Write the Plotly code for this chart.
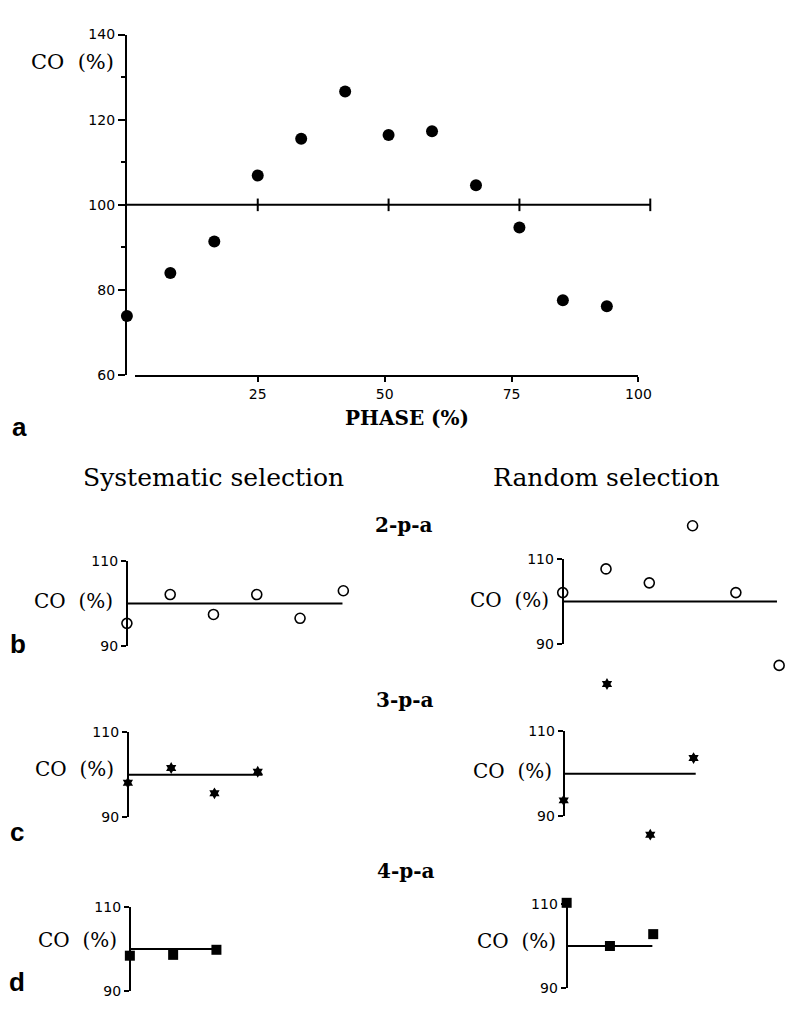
import plotly.graph_objects as go

W, H = 801, 1015

# ---------------- data ----------------
# panel a: cardiac output vs phase
phase_a = [0, 8.3, 16.7, 25, 33.3, 41.7, 50, 58.3, 66.7, 75, 83.3, 91.7]
co_a = [73.9, 84.0, 91.4, 106.9, 115.5, 126.6, 116.4, 117.3, 104.6, 94.7, 77.6, 76.2]
ytick_a = [60, 80, 100, 120, 140]
yminor_a = [90, 110, 130]
xtick_a = [25, 50, 75, 100]

# panels b-d: systematic vs random selection (sample index, CO %)
sample_b_sys = [0, 1, 2, 3, 4, 5]
co_b_sys = [95.3, 102.1, 97.4, 102.1, 96.5, 103.0]
sample_b_rand = [0, 1, 2, 3, 4, 5]
co_b_rand = [102.1, 107.7, 104.4, 117.9, 102.1, 84.9]
sample_c_sys = [0, 1, 2, 3]
co_c_sys = [98.1, 101.6, 95.6, 100.7]
sample_c_rand = [0, 1, 2, 3]
co_c_rand = [93.7, 121.2, 85.6, 103.7]
sample_d_sys = [0, 1, 2]
co_d_sys = [98.4, 98.6, 99.8]
sample_d_rand = [0, 1, 2]
co_d_rand = [110.2, 100.0, 102.8]
ytick_small = [90, 110]
reference_co = 100


def fx(px):
    return px / W


def fy(py):
    return 1 - py / H


TICKFONT = dict(family="DejaVu Sans", size=14, color="black")
SERIF = "DejaVu Serif"

fig = go.Figure()

# ---------------- panel a ----------------
fig.add_trace(go.Scatter(x=[0, 100], y=[reference_co, reference_co], mode="lines",
                         line=dict(color="black", width=2), xaxis="x", yaxis="y",
                         hoverinfo="skip"))
fig.add_trace(go.Scatter(x=xtick_a, y=[reference_co] * len(xtick_a), mode="markers",
                         marker=dict(symbol="line-ns-open", size=9, color="black",
                                     line=dict(width=2, color="black")),
                         xaxis="x", yaxis="y", cliponaxis=False, hoverinfo="skip"))
fig.add_trace(go.Scatter(x=phase_a, y=co_a, mode="markers",
                         marker=dict(size=12, color="black"),
                         xaxis="x", yaxis="y", cliponaxis=False))
fig.add_trace(go.Scatter(x=[None], y=[None], xaxis="x2", yaxis="y", hoverinfo="skip"))

a_px_per_unit = 5.32
layout = dict(
    width=W, height=H, margin=dict(l=0, r=0, t=0, b=0),
    paper_bgcolor="white", plot_bgcolor="rgba(0,0,0,0)", showlegend=False,
    xaxis=dict(domain=[fx(129), fx(663)], range=[0, (663 - 129) / a_px_per_unit],
               visible=False, anchor="y", fixedrange=True),
    yaxis=dict(domain=[fy(373), fy(27)], range=[60, 140], anchor="x",
               showline=True, linewidth=2, linecolor="black",
               ticks="outside", ticklen=7, tickwidth=2, tickcolor="black",
               tickvals=ytick_a, tickfont=TICKFONT, showgrid=False, zeroline=False,
               minor=dict(tickvals=yminor_a, ticks="outside", ticklen=4, tickwidth=1.5,
                          tickcolor="black", showgrid=False)),
    xaxis2=dict(domain=[fx(137), fx(649)], range=[0.78, 100], anchor="y",
                showline=True, linewidth=2, linecolor="black",
                ticks="outside", ticklen=5, tickwidth=2, tickcolor="black",
                tickvals=xtick_a, tickfont=TICKFONT, showgrid=False, zeroline=False),
)

# ---------------- small panels ----------------
open_circle = dict(symbol="circle-open", size=10, color="black",
                   line=dict(width=1.6, color="black"))
star = dict(symbol="hexagram", size=9, color="black")
square = dict(symbol="square", size=10, color="black")
small = [
    # (x, y, marker, axis-origin px, 100-line px, line length in samples)
    (sample_b_sys, co_b_sys, open_circle, 129, 605, 4.98),
    (sample_b_rand, co_b_rand, open_circle, 572, 603, 4.95),
    (sample_c_sys, co_c_sys, star, 130, 779, 3.11),
    (sample_c_rand, co_c_rand, star, 573, 778, 3.05),
    (sample_d_sys, co_d_sys, square, 132, 956, 2.07),
    (sample_d_rand, co_d_rand, square, 576, 953, 1.98),
]
step_px = 44          # px per sample
py_unit = 4.3         # px per CO %
n_small = len(small)
for k, (xs, ys, mk, x0, yl, L) in enumerate(small):
    i = 3 + k
    j = 3 + n_small + k
    xa, ya, yd = f"x{i}", f"y{i}", f"y{j}"
    # hidden data axes, same pixel scale, wide enough for every point
    right_px = min(x0 + (max(max(xs), L) + 0.5) * step_px, W - 1)
    xmax = (right_px - x0) / step_px
    bottom_px = min(yl + (100 - (min(min(ys), 90) - 3)) * py_unit, H - 1)
    top_px = max(yl - ((max(max(ys), 110) + 3) - 100) * py_unit, 1)
    ylo = 100 - (bottom_px - yl) / py_unit
    yhi = 100 + (yl - top_px) / py_unit
    fig.add_trace(go.Scatter(x=[0, L], y=[reference_co, reference_co], mode="lines",
                             line=dict(color="black", width=2), xaxis=xa, yaxis=ya,
                             hoverinfo="skip"))
    fig.add_trace(go.Scatter(x=xs, y=ys, mode="markers", marker=mk,
                             xaxis=xa, yaxis=ya, cliponaxis=False))
    fig.add_trace(go.Scatter(x=[None], y=[None], xaxis=xa, yaxis=yd, hoverinfo="skip"))
    layout[f"xaxis{i}"] = dict(domain=[fx(x0 - 0.5 * step_px), fx(right_px)],
                               range=[-0.5, xmax], visible=False, anchor=ya,
                               fixedrange=True)
    layout[f"yaxis{i}"] = dict(domain=[fy(bottom_px), fy(top_px)],
                               range=[ylo, yhi], visible=False, anchor=xa,
                               fixedrange=True)
    # visible CO axis, spanning 90-110 only
    layout[f"yaxis{j}"] = dict(domain=[fy(yl + 10 * py_unit), fy(yl - 10 * py_unit)],
                               range=[90, 110], anchor="free", position=fx(x0),
                               showline=True, linewidth=2, linecolor="black",
                               ticks="outside", ticklen=5, tickwidth=2, tickcolor="black",
                               tickvals=ytick_small, tickfont=TICKFONT,
                               showgrid=False, zeroline=False, fixedrange=True)

fig.update_layout(**layout)

# ---------------- text ----------------
def ann(text, px, py, size, family=SERIF, weight="normal", xanchor="center"):
    fig.add_annotation(text=text, x=fx(px), y=fy(py), xref="paper", yref="paper",
                       xanchor=xanchor, yanchor="middle", showarrow=False,
                       font=dict(family=family, size=size, color="black", weight=weight))

CO = "CO\u00a0\u00a0(%)"
ann(CO, 118, 55, 21, xanchor="right")
ann("PHASE (%)", 414, 417, 20, weight="bold")
ann("a", 20, 426, 26, family="Liberation Sans", weight="bold")
ann("Systematic selection", 217, 477, 25)
ann("Random selection", 616, 477, 25)
ann("2-p-a", 411, 525, 20, weight="bold")
ann("3-p-a", 412, 703, 20, weight="bold")
ann("4-p-a", 413, 877, 20, weight="bold")
for (px, py) in [(117, 602), (560, 601), (118, 773), (563, 775), (121, 947), (567, 948)]:
    ann(CO, px, py, 20, xanchor="right")
ann("b", 18, 646, 26, family="Liberation Sans", weight="bold")
ann("c", 17, 837, 26, family="Liberation Sans", weight="bold")
ann("d", 17, 990, 26, family="Liberation Sans", weight="bold")

fig.write_html(
    "out.html",
    post_script="document.documentElement.style.margin='0';"
                "document.body.style.margin='0';"
                "document.body.style.overflow='hidden';",
)
